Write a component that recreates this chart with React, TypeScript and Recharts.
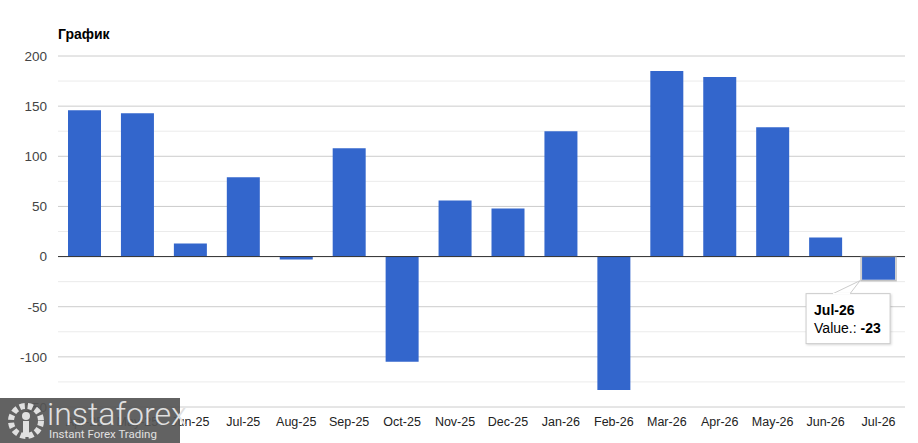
import React from "react";
import {
  Bar,
  BarChart,
  CartesianGrid,
  LabelList,
  ReferenceLine,
  XAxis,
  YAxis,
} from "recharts";

const months = [
  "Apr-25", "May-25", "Jun-25", "Jul-25", "Aug-25", "Sep-25", "Oct-25", "Nov-25",
  "Dec-25", "Jan-26", "Feb-26", "Mar-26", "Apr-26", "May-26", "Jun-26", "Jul-26",
];
const values = [146, 143, 13, 79, -3, 108, -105, 56, 48, 125, -133, 185, 179, 129, 19, -23];
const majorTicks = [-150, -100, -50, 0, 50, 100, 150, 200];
const minorTicks = [-125, -75, -25, 25, 75, 125, 175];
const highlighted = 15;

const data = months.map((m, i) => ({ name: m, value: values[i] }));

const font = "Arial, 'Liberation Sans', sans-serif";

// callout box under the hovered bar
const Callout = (props: any) => {
  const { x, y, width, height, index, value } = props;
  if (index !== highlighted) return null;
  const top = Math.min(y, y + height);
  const bottom = Math.max(y, y + height);
  const bx = x - 56;
  const by = bottom + 14;
  return (
    <g>
      <rect x={x - 1} y={top} width={width + 2} height={bottom - top + 1}
        fill="none" stroke="#999" strokeOpacity={0.6} strokeWidth={1.5} />
      <path
        d={`M${bx + 27},${by} L${x - 2},${bottom + 1} L${bx + 44},${by}`}
        fill="#fff" stroke="#ccc" />
      <rect x={bx} y={by} width={84} height={50} fill="#fff" stroke="#ccc"
        style={{ filter: "drop-shadow(1px 1px 1px rgba(0,0,0,0.15))" }} />
      <line x1={bx + 27} y1={by} x2={bx + 44} y2={by} stroke="#fff" strokeWidth={1.5} />
      <text x={bx + 8} y={by + 21} fontFamily={font} fontSize={14} fontWeight="bold" fill="#000">
        {months[index]}
      </text>
      <text x={bx + 8} y={by + 39} fontFamily={font} fontSize={14} fill="#000">
        Value.: <tspan fontWeight="bold">{value}</tspan>
      </text>
    </g>
  );
};

const Watermark = () => (
  <div
    style={{
      position: "absolute", left: 0, top: 398, width: 180, height: 45,
      background: "rgba(85,85,85,0.92)", fontFamily: "Roboto, sans-serif", color: "#e0e0e0",
    }}
  >
    <svg width={42} height={42} style={{ position: "absolute", left: 5, top: 2 }}>
      <circle cx={21} cy={21} r={15} fill="none" stroke="#e0e0e0" strokeWidth={6}
        strokeDasharray="5 3" />
      <circle cx={21} cy={16} r={4} fill="#e0e0e0" />
      <rect x={18} y={21} width={6} height={16} fill="#e0e0e0" />
    </svg>
    <div style={{ position: "absolute", left: 47, top: -2, fontSize: 32, fontWeight: 300, lineHeight: "36px" }}>
      instaforex
    </div>
    <div style={{ position: "absolute", left: 49, top: 29, fontSize: 11.5, lineHeight: "14px" }}>
      Instant Forex Trading
    </div>
  </div>
);

export default function App() {
  return (
    <div style={{ position: "absolute", left: 0, top: 0, width: 918, height: 443, background: "#fff" }}>
      <div style={{ position: "absolute", left: 58, top: 26, fontFamily: font, fontSize: 14, fontWeight: "bold" }}>
        График
      </div>
      <BarChart
        width={918}
        height={443}
        data={data}
        margin={{ top: 56, right: 13, left: 0, bottom: 0 }}
        barSize={33}
      >
        <CartesianGrid vertical={false} horizontalValues={minorTicks} stroke="#ebebeb" />
        <CartesianGrid vertical={false} horizontalValues={majorTicks} stroke="#cccccc" />
        <XAxis
          dataKey="name"
          height={36}
          axisLine={false}
          tickLine={false}
          tickMargin={4}
          interval={0}
          tick={{ fontFamily: font, fontSize: 12.5, fill: "#222" }}
        />
        <YAxis
          width={58}
          domain={[-150, 200]}
          ticks={majorTicks}
          axisLine={false}
          tickLine={false}
          tickMargin={5}
          tick={{ fontFamily: font, fontSize: 13.5, fill: "#444" }}
        />
        <Bar dataKey="value" fill="#3366cc" isAnimationActive={false}>
          <LabelList dataKey="value" content={<Callout />} />
        </Bar>
        <ReferenceLine y={0} stroke="#333" />
      </BarChart>
      <Watermark />
    </div>
  );
}
